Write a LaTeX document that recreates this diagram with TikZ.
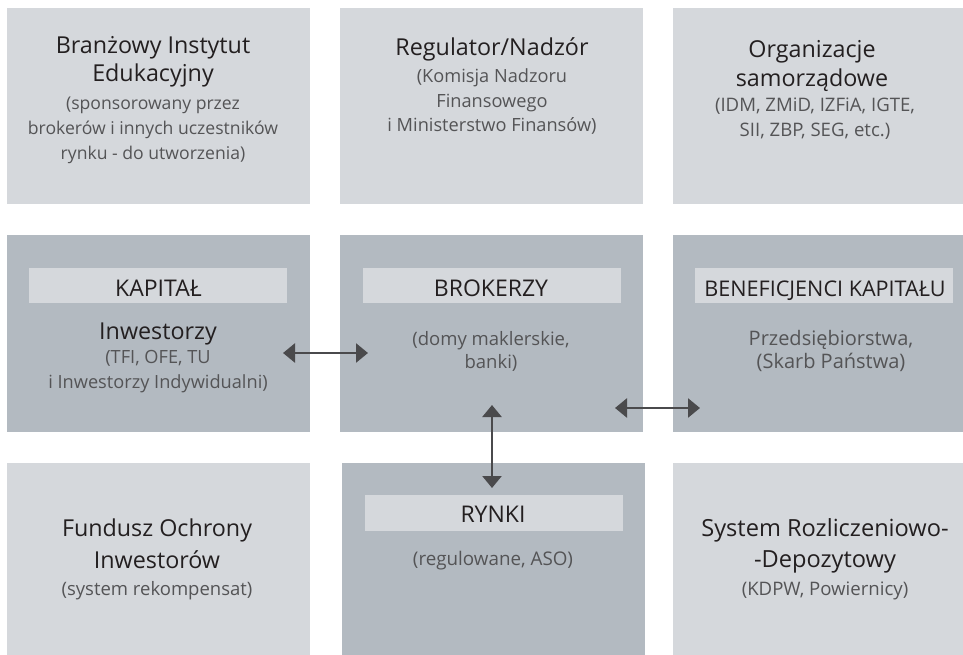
\documentclass[tikz,border=0pt]{standalone}
\usepackage{fontspec}
\setmainfont{Open Sans}
\usetikzlibrary{arrows.meta}
\definecolor{lightbox}{HTML}{D5D8DC}
\definecolor{darkbox}{HTML}{B3BAC1}
\definecolor{titlec}{HTML}{231F20}
\definecolor{subc}{HTML}{545456}
\definecolor{arrowc}{HTML}{4A4A4C}
\begin{document}
\begin{tikzpicture}[x=1pt,y=-1pt,
  boxbase/.style={draw=none,inner sep=0pt,outer sep=0pt,anchor=north west},
  lightbg/.style={boxbase,fill=lightbox},
  darkbg/.style={boxbase,fill=darkbox},
  band/.style={draw=none,fill=lightbox,inner sep=0pt,outer sep=0pt,minimum width=258pt,minimum height=35pt,anchor=north west},
  titletext/.style={anchor=base,align=center,inner sep=0pt,text=titlec,font=\fontsize{23.3}{29}\selectfont},
  subtext/.style={anchor=base,align=center,inner sep=0pt,text=subc,font=\fontsize{18.2}{24.5}\selectfont},
  bandtext/.style={anchor=base,inner sep=0pt,text=titlec,font=\fontsize{23}{26}\selectfont},
  dblarrow/.style={{Triangle[length=12pt,width=19pt]}-{Triangle[length=12pt,width=19pt]},line width=2.5pt,draw=arrowc}
]
\useasboundingbox (0,0) rectangle (963,655);
\fill[white] (0,0) rectangle (963,655);
% top row
\node[lightbg,minimum width=303pt,minimum height=196pt] (b1) at (7,8) {};
\node[lightbg,minimum width=303pt,minimum height=196pt] (b2) at (340,8) {};
\node[lightbg,minimum width=290pt,minimum height=196pt] (b3) at (673,8) {};
% middle row
\node[darkbg,minimum width=303pt,minimum height=197pt] (kap) at (7,235) {};
\node[darkbg,minimum width=303pt,minimum height=197pt] (bro) at (340,235) {};
\node[darkbg,minimum width=290pt,minimum height=197pt] (ben) at (673,235) {};
% bottom row
\node[lightbg,minimum width=303pt,minimum height=192pt] (fun) at (7,463) {};
\node[darkbg,minimum width=303pt,minimum height=192pt] (ryn) at (342,463) {};
\node[lightbg,minimum width=290pt,minimum height=192pt] (sys) at (673,463) {};
% bands
\node[band] (kapband) at (29,268) {};
\node[band] (broband) at (363,268) {};
\node[band] (benband) at (695,268) {};
\node[band,minimum height=36pt] (rynband) at (365,495) {};
% texts top row (base anchor = last line baseline)
\node[titletext,font=\fontsize{23.3}{28}\selectfont] (t1) at (153,82) {Branżowy Instytut\\Edukacyjny};
\node[subtext,font=\fontsize{17.6}{25}\selectfont] (s1) at (153,160) {(sponsorowany przez\\brokerów i innych uczestników\\rynku - do utworzenia)};
\node[titletext] (t2) at (492,56) {Regulator/Nadzór};
\node[subtext] (s2) at (492,132) {(Komisja Nadzoru\\Finansowego\\i Ministerstwo Finansów)};
\node[titletext] (t3) at (812,87) {Organizacje\\samorządowe};
\node[subtext,font=\fontsize{18.6}{25}\selectfont] (s3) at (815,137) {(IDM, ZMiD, IZFiA, IGTE,\\SII, ZBP, SEG, etc.)};
% middle row texts
\node[bandtext] (l1) at (158.5,296) {KAPITAŁ};
\node[titletext] (t4) at (158,339) {Inwestorzy};
\node[subtext] (s4) at (158,388) {(TFI, OFE, TU\\i Inwestorzy Indywidualni)};
\node[bandtext] (l2) at (491,296) {BROKERZY};
\node[subtext,font=\fontsize{18.5}{22.5}\selectfont] (s5) at (491,368) {(domy maklerskie,\\banki)};
\node[bandtext,font=\fontsize{21.6}{26}\selectfont] (l3) at (825,296) {BENEFICJENCI KAPITAŁU};
\node[subtext,font=\fontsize{20}{23}\selectfont] (s6) at (831,368) {Przedsiębiorstwa,\\(Skarb Państwa)};
% bottom row texts
\node[titletext,font=\fontsize{23.3}{31.5}\selectfont] (t7) at (157,568) {Fundusz Ochrony\\Inwestorów};
\node[subtext,font=\fontsize{18.5}{24}\selectfont] (s7) at (157,595) {(system rekompensat)};
\node[bandtext] (l8) at (493,522) {RYNKI};
\node[subtext,font=\fontsize{18.8}{24}\selectfont] (s8) at (493,565) {(regulowane, ASO)};
\node[titletext,font=\fontsize{23.6}{31}\selectfont] (t9) at (825,567) {System Rozliczeniowo-\\-Depozytowy};
\node[subtext,font=\fontsize{18.6}{24}\selectfont] (s9) at (825,595) {(KDPW, Powiernicy)};
% arrows
\coordinate (kapR) at (283,353);
\coordinate (broL) at (368,353);
\coordinate (broB) at (492,405);
\coordinate (rynT) at (492,488);
\coordinate (broR) at (615,408);
\coordinate (benL) at (700,408);
\draw[dblarrow] (kapR) -- (broL);
\draw[dblarrow] (broB) -- (rynT);
\draw[dblarrow] (broR) -- (benL);
\end{tikzpicture}
\end{document}
